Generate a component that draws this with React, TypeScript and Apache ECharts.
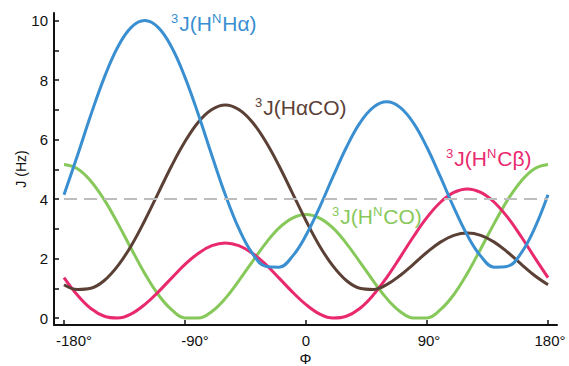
import React, { useEffect, useRef } from 'react';
import * as echarts from 'echarts';

// Dihedral angle phi (degrees)
const PHI = [-180, -170, -160, -150, -140, -130, -120, -110, -100, -90, -80, -70, -60, -50, -40, -30, -20, -10, 0, 10, 20, 30, 40, 50, 60, 70, 80, 90, 100, 110, 120, 130, 140, 150, 160, 170, 180];
// 3J couplings (Hz)
const J_HNHA = [4.14, 5.46, 6.83, 8.09, 9.11, 9.77, 10.0, 9.77, 9.11, 8.09, 6.83, 5.46, 4.14, 3.01, 2.18, 1.74, 1.71, 2.08, 2.78, 3.71, 4.74, 5.73, 6.55, 7.08, 7.27, 7.08, 6.55, 5.73, 4.74, 3.71, 2.78, 2.08, 1.71, 1.74, 2.18, 3.01, 4.14];
const J_HACO = [1.12, 0.96, 1.0, 1.26, 1.75, 2.43, 3.27, 4.19, 5.11, 5.93, 6.59, 7.01, 7.16, 7.01, 6.59, 5.93, 5.11, 4.19, 3.27, 2.43, 1.75, 1.26, 1.0, 0.96, 1.12, 1.43, 1.81, 2.21, 2.55, 2.78, 2.86, 2.78, 2.55, 2.21, 1.81, 1.43, 1.12];
const J_HNCO = [5.16, 5.02, 4.6, 3.97, 3.18, 2.33, 1.5, 0.79, 0.28, 0.0, 0.0, 0.22, 0.66, 1.25, 1.89, 2.51, 3.03, 3.36, 3.48, 3.36, 3.03, 2.51, 1.89, 1.25, 0.66, 0.22, 0.0, 0.0, 0.28, 0.79, 1.5, 2.33, 3.18, 3.97, 4.6, 5.02, 5.16];
const J_HNCB = [1.36, 0.77, 0.32, 0.06, 0.0, 0.14, 0.45, 0.87, 1.34, 1.8, 2.18, 2.43, 2.52, 2.43, 2.18, 1.8, 1.34, 0.87, 0.45, 0.14, 0.0, 0.06, 0.32, 0.77, 1.36, 2.04, 2.74, 3.38, 3.89, 4.22, 4.34, 4.22, 3.89, 3.38, 2.74, 2.04, 1.36];
const REF_J = 4;

const X_TICKS = [-180, -90, 0, 90, 180];
const X_TICK_LABELS = ['-180°', '-90°', '0', '90°', '180°'];
const Y_TICK_LABELS = [0, 2, 4, 6, 8, 10];

const C_BLUE = '#3a8fd1';
const C_BROWN = '#5b4036';
const C_GREEN = '#87c85a';
const C_PINK = '#e9296d';
const C_AXIS = '#111111';

const FONT = "'Liberation Sans', Arial, Helvetica, sans-serif";

export default function App() {
  const ref = useRef<HTMLDivElement>(null);
  useEffect(() => {
    const chart = echarts.init(ref.current as HTMLDivElement, null, { renderer: 'svg' });
    const pairs = (ys: number[]) => PHI.map((p, i) => [p, ys[i]]);
    const rich = (color: string) => ({
      m: { fontSize: 21, fontFamily: FONT, fill: color, lineHeight: 24 },
      s: { fontSize: 13, fontFamily: FONT, fill: color, lineHeight: 13, verticalAlign: 'top', padding: [1, 1, 0, 0] },
    });
    const label = (x: number, y: number, text: string, color: string) => ({
      type: 'text',
      x,
      y,
      silent: true,
      z: 100,
      style: { text, rich: rich(color), align: 'left', verticalAlign: 'middle', fill: color, fontFamily: FONT },
    });
    const line = (name: string, ys: number[], color: string) => ({
      name,
      type: 'line',
      xAxisIndex: 0,
      yAxisIndex: 0,
      data: pairs(ys),
      smooth: 0.4,
      showSymbol: false,
      symbol: 'none',
      clip: false,
      lineStyle: { color, width: 3 },
    });
    chart.setOption({
      animation: false,
      textStyle: { fontFamily: FONT },
      grid: [
        { left: 64, right: 21, top: 20.5, bottom: 48, outerBoundsMode: 'none', containLabel: false },
        { left: 54, right: 12, top: 13, bottom: 41, outerBoundsMode: 'none', containLabel: false },
      ],
      xAxis: [
        {
          gridIndex: 0,
          type: 'value',
          min: -180,
          max: 180,
          interval: 90,
          offset: 7,
          axisLine: { show: false, onZero: false },
          axisTick: { show: true, inside: true, length: 5, lineStyle: { color: C_AXIS, width: 1.5 } },
          splitLine: { show: false },
          axisLabel: {
            margin: 8,
            fontSize: 15,
            color: C_AXIS,
            fontFamily: FONT,
            formatter: (v: number) => {
              const i = X_TICKS.indexOf(v);
              if (i < 0) return '';
              return v < 0 ? '{n|' + X_TICK_LABELS[i] + '}' : v > 0 ? '{p|' + X_TICK_LABELS[i] + '}' : X_TICK_LABELS[i];
            },
            rich: {
              n: { fontSize: 15, color: C_AXIS, fontFamily: FONT, padding: [0, 0, 0, 20] },
              p: { fontSize: 15, color: C_AXIS, fontFamily: FONT, padding: [0, 0, 0, 4] },
            },
          },
        },
        {
          gridIndex: 1,
          type: 'value',
          min: 0,
          max: 1,
          axisLine: { show: true, onZero: false, lineStyle: { color: C_AXIS, width: 2 } },
          axisTick: { show: false },
          axisLabel: { show: false },
          splitLine: { show: false },
          name: 'Φ',
          nameLocation: 'middle',
          nameGap: 26,
          nameTextStyle: { fontSize: 15, color: C_AXIS, fontFamily: FONT },
        },
      ],
      yAxis: [
        {
          gridIndex: 0,
          type: 'value',
          min: 0,
          max: 10,
          interval: 1,
          offset: 10,
          axisLine: { show: false, onZero: false },
          axisTick: { show: true, inside: true, length: 5, lineStyle: { color: C_AXIS, width: 1.5 } },
          splitLine: { show: false },
          axisLabel: {
            margin: 6,
            fontSize: 15,
            color: C_AXIS,
            fontFamily: FONT,
            formatter: (v: number) => (Y_TICK_LABELS.indexOf(v) >= 0 ? String(v) : ''),
          },
        },
        {
          gridIndex: 1,
          type: 'value',
          min: 0,
          max: 1,
          axisLine: { show: true, onZero: false, lineStyle: { color: C_AXIS, width: 2 } },
          axisTick: { show: false },
          axisLabel: { show: false },
          splitLine: { show: false },
          name: 'J (Hz)',
          nameLocation: 'middle',
          nameGap: 26,
          nameTextStyle: { fontSize: 14, color: C_AXIS, fontFamily: FONT },
        },
      ],
      series: [
        {
          name: 'frame',
          type: 'line',
          xAxisIndex: 1,
          yAxisIndex: 1,
          data: [],
        },
        {
          name: 'ref',
          type: 'line',
          xAxisIndex: 0,
          yAxisIndex: 0,
          data: [],
          markLine: {
            silent: true,
            symbol: 'none',
            label: { show: false },
            lineStyle: { type: [13, 7], color: '#bdbdbd', width: 2 },
            data: [{ yAxis: REF_J }],
          },
        },
        line('HNCO', J_HNCO, C_GREEN),
        line('HNCB', J_HNCB, C_PINK),
        line('HACO', J_HACO, C_BROWN),
        line('HNHA', J_HNHA, C_BLUE),
      ],
      graphic: [
        label(171, 23, '{s|3}{m|J(H}{s|N}{m|Hα)}', C_BLUE),
        label(255, 107, '{s|3}{m|J(HαCO)}', C_BROWN),
        label(332, 216, '{s|3}{m|J(H}{s|N}{m|CO)}', C_GREEN),
        label(446, 158, '{s|3}{m|J(H}{s|N}{m|Cβ)}', C_PINK),
      ],
    });
    return () => chart.dispose();
  }, []);
  return <div ref={ref} style={{ position: 'absolute', left: 0, top: 0, width: 569, height: 366 }} />;
}
